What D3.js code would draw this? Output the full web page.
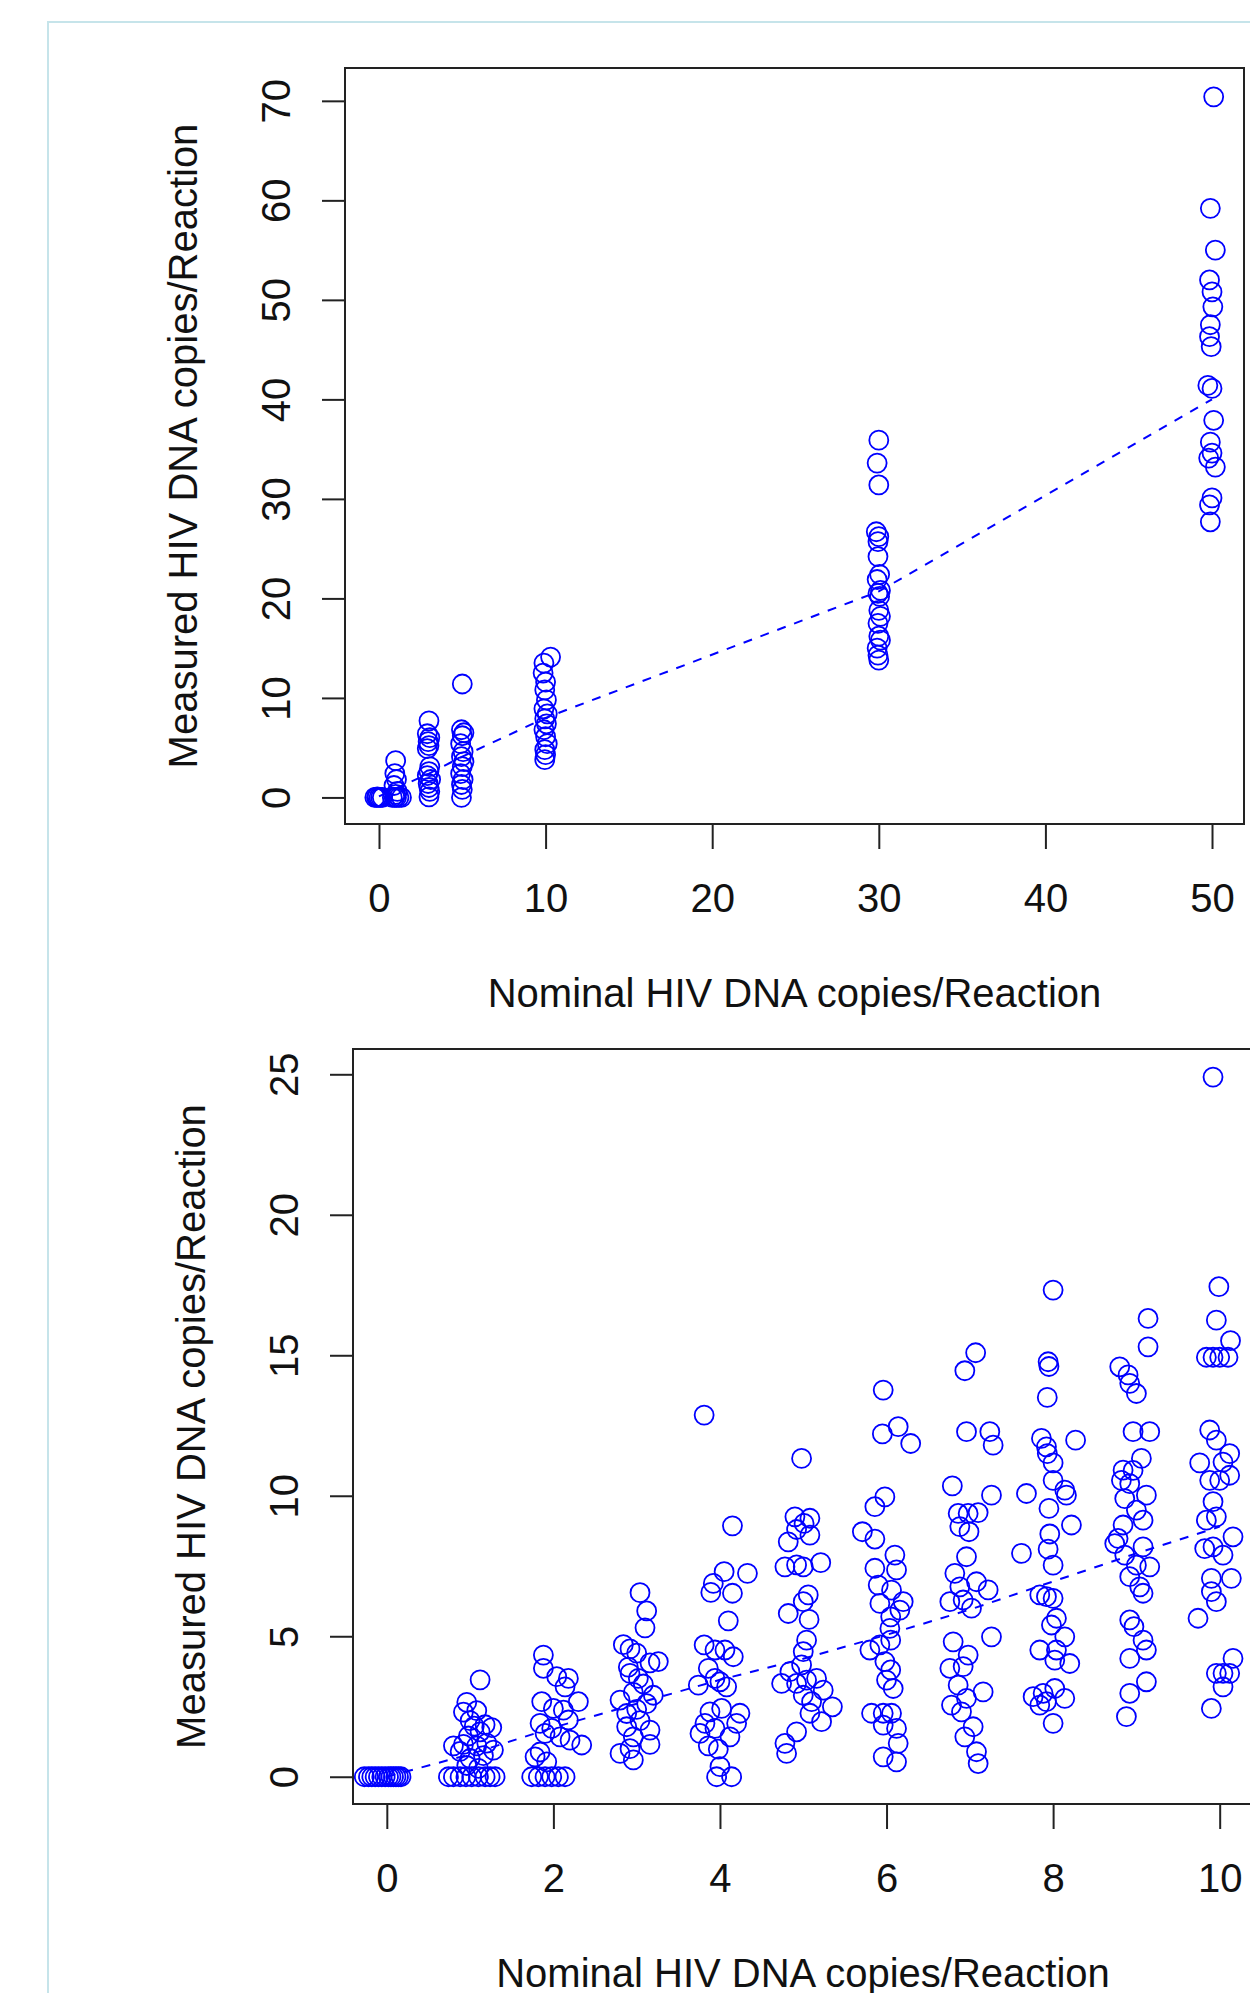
<!DOCTYPE html>
<html>
<head>
<meta charset="utf-8">
<script src="https://cdn.jsdelivr.net/npm/d3@7"></script>
<style>
  body { margin: 0; background: #fff; }
  svg text { font-family: "Liberation Sans", Arial, sans-serif; fill: #111; }
</style>
</head>
<body>
<svg id="chart" width="1250" height="1993"></svg>
<script>
// ---- data ----
// top panel: [jittered nominal, measured]
const topPoints = [
  [-0.25,0],[-0.15,0],[-0.1,0.05],[0,0],[0.1,0],[0.2,0],
  [1.0,3.7],[0.95,2.4],[1.05,1.8],[0.9,1.2],[1.1,0.6],[1.0,0.3],[0.8,0],[0.95,0],[1.05,0],[1.2,0],[1.35,0],
  [3.0,7.7],[2.9,6.4],[3.05,6.0],[2.95,5.6],[3.0,5.2],[2.9,4.9],[3.05,3.1],[3.0,2.6],[2.9,2.2],[3.1,1.8],[2.95,1.4],[3.0,1.0],[3.05,0.6],[3.0,0.05],
  [5.0,11.4],[4.95,6.8],[5.1,6.5],[5.0,6.2],[4.9,5.4],[5.05,4.6],[4.95,4.1],[5.1,3.6],[5.0,3.1],[4.9,2.4],[5.05,1.8],[4.95,1.3],[5.0,0.8],[4.95,0.0],
  [10.3,14.1],[9.9,13.5],[9.85,12.5],[10.0,11.6],[9.95,10.8],[10.05,9.8],[9.9,8.9],[10.1,8.4],[9.95,7.9],[10.05,7.4],[9.9,6.8],[10.0,6.1],[10.1,5.4],[9.95,4.8],[10.0,4.3],[9.95,3.8],
  [30.0,35.9],[29.9,33.6],[30.0,31.4],[29.85,26.7],[30.0,26.2],[29.95,25.7],[29.95,24.2],[30.05,22.4],[29.9,21.9],[30.1,20.8],[29.95,20.5],[30.05,20.2],[30.0,18.8],[30.1,18.2],[29.95,17.5],[30.0,16.2],[30.1,15.8],[29.9,15.0],[29.95,14.3],[30.0,13.8],
  [50.1,70.4],[49.9,59.2],[50.2,55.0],[49.85,52.0],[50.0,50.8],[50.05,49.3],[49.9,47.5],[49.85,46.3],[49.95,45.3],[49.75,41.4],[50.0,41.1],[50.1,37.9],[49.9,35.7],[50.0,34.6],[49.8,34.1],[50.2,33.2],[50.0,30.1],[49.85,29.4],[49.9,27.7]
];
const topFitX = [0, 1, 3, 5, 10, 30, 50];
const topFitY = [0.1, 0.9, 2.4, 4.1, 8.0, 20.7, 40.0];

// bottom panel, one array per nominal level
const bot0 = [[-0.27,0],[-0.22,0],[-0.18,0],[-0.14,0],[-0.1,0],[-0.06,0],[-0.02,0],[0.02,0],[0.05,0],[0.08,0],[0.11,0],[0.14,0],[0.17,0]];
const bot1 = [[1.12,3.45],[0.96,2.65],[0.92,2.3],[1.08,2.35],[1.0,2.0],[1.05,1.8],[1.18,1.85],[1.26,1.75],[1.12,1.6],[0.98,1.45],[0.8,1.1],[0.92,1.15],[1.08,1.1],[1.2,1.2],[1.28,0.95],[0.88,0.9],[1.0,0.65],[1.16,0.75],[0.96,0.4],[1.1,0.3],
  [0.74,0],[0.8,0],[0.88,0],[0.95,0],[1.02,0],[1.1,0],[1.18,0],[1.24,0],[1.3,0]];
const bot2 = [[1.88,4.33],[1.88,3.86],[2.04,3.56],[2.18,3.5],[2.14,3.2],[2.3,2.67],[1.86,2.67],[2.0,2.43],[2.12,2.37],[2.18,2.02],[1.84,1.9],[1.98,1.72],[1.9,1.54],[2.08,1.42],[2.34,1.13],[2.2,1.3],[1.78,0.71],[1.92,0.53],[1.84,0.88],
  [1.74,0],[1.82,0],[1.9,0],[1.98,0],[2.06,0],[2.14,0]];
const bot3 = [[3.04,6.55],[3.12,5.9],[3.1,5.3],[2.84,4.7],[2.92,4.55],[3.0,4.4],[3.16,4.05],[3.26,4.1],[2.92,3.68],[3.08,3.3],[2.96,3.0],[2.8,2.73],[3.12,2.6],[2.88,2.25],[3.04,2.0],[2.88,1.78],[3.16,1.66],[2.96,1.42],[3.16,1.15],[2.92,1.0],[2.8,0.83],[2.96,0.6],[3.02,3.5],[2.9,3.9],[3.2,2.9],[3.0,2.4]];
const bot4 = [[3.81,12.87],[4.15,8.93],[4.05,7.3],[4.33,7.24],[3.92,6.88],[3.89,6.56],[4.15,6.53],[4.1,5.55],[3.81,4.69],[3.94,4.51],[4.06,4.51],[4.16,4.27],[3.74,3.26],[3.86,3.86],[3.94,3.5],[4.0,3.38],[4.08,3.2],[3.88,2.31],[4.02,2.43],[4.24,2.26],[3.82,1.9],[3.94,1.72],[4.12,1.42],[3.86,1.1],[3.98,0.98],[4.0,0.36],[3.96,0],[4.14,0],[4.2,1.9],[3.76,1.54]];
const bot5 = [[4.98,11.33],[4.9,9.25],[5.08,9.2],[5.01,9.02],[4.82,8.36],[4.92,8.8],[5.08,8.6],[4.78,7.47],[4.92,7.54],[5.0,7.47],[5.21,7.62],[5.06,6.47],[5.0,6.23],[4.82,5.81],[5.07,5.6],[5.04,4.86],[5.0,4.45],[4.74,3.32],[4.84,3.74],[4.98,3.98],[4.92,3.32],[5.04,3.44],[5.16,3.5],[5.24,3.08],[5.0,2.9],[5.1,2.67],[5.35,2.49],[5.08,2.26],[5.22,1.96],[4.92,1.6],[4.78,1.19],[4.8,0.83]];
const bot6 = [[5.96,13.76],[5.95,12.2],[6.14,12.46],[6.29,11.86],[5.98,9.96],[5.86,9.61],[5.71,8.72],[5.86,8.46],[6.1,7.89],[6.12,7.36],[5.86,7.42],[5.9,6.82],[6.06,6.64],[5.92,6.17],[6.2,6.23],[6.16,5.93],[6.05,5.69],[6.04,5.28],[6.05,4.86],[5.8,4.51],[5.92,4.69],[5.98,4.1],[6.05,3.8],[6.0,3.44],[6.08,3.14],[5.82,2.26],[5.96,2.26],[6.06,2.26],[5.96,1.84],[6.12,1.72],[6.14,1.19],[5.96,0.71],[6.12,0.53]];
const bot7 = [[7.07,15.09],[6.94,14.45],[6.96,12.28],[7.24,12.28],[7.28,11.8],[6.79,10.35],[7.26,10.02],[6.86,9.37],[6.98,9.37],[7.1,9.4],[6.88,8.9],[6.99,8.72],[6.96,7.83],[6.82,7.24],[7.08,6.94],[7.22,6.65],[6.88,6.76],[6.76,6.23],[6.92,6.29],[7.02,6.0],[6.8,4.8],[7.26,4.98],[6.98,4.33],[6.76,3.86],[6.92,3.92],[6.86,3.26],[7.16,3.02],[6.96,2.79],[6.78,2.55],[6.9,2.31],[7.04,1.78],[6.94,1.42],[7.08,0.89],[7.1,0.47]];
const bot8 = [[8.0,17.32],[7.94,14.77],[7.95,14.6],[7.93,13.5],[7.86,12.04],[7.92,11.74],[7.93,11.5],[8.27,11.98],[8.0,11.17],[8.0,10.55],[8.14,10.2],[8.16,10.02],[7.68,10.08],[7.95,9.55],[8.22,8.96],[7.96,8.64],[7.62,7.95],[7.94,8.1],[8.0,7.53],[7.84,6.47],[7.92,6.41],[8.0,6.35],[8.04,5.64],[7.98,5.4],[8.14,4.98],[7.84,4.51],[8.04,4.51],[8.2,4.03],[8.02,4.15],[7.76,2.85],[7.88,2.97],[8.02,3.14],[8.14,2.79],[7.84,2.55],[8.0,1.9],[7.92,2.67]];
const bot9 = [[9.14,16.31],[9.14,15.3],[8.8,14.59],[8.9,14.3],[8.92,14.0],[9.0,13.64],[8.96,12.28],[9.16,12.28],[9.06,11.33],[8.84,10.91],[8.96,10.9],[8.82,10.55],[8.92,10.43],[9.12,10.02],[8.86,9.9],[9.0,9.49],[9.08,9.13],[8.84,8.96],[8.78,8.48],[8.74,8.3],[9.08,8.18],[8.86,7.89],[9.0,7.53],[9.16,7.47],[8.92,7.12],[9.04,6.76],[9.08,6.53],[8.92,5.58],[8.97,5.34],[9.08,4.86],[9.12,4.51],[8.92,4.21],[9.12,3.38],[8.92,2.97],[8.88,2.14]];
const bot10 = [[9.92,24.9],[9.99,17.44],[9.96,16.25],[10.13,15.52],[9.84,14.93],[9.92,14.93],[10.0,14.93],[10.1,14.93],[9.88,12.34],[9.96,11.98],[9.76,11.17],[10.12,11.5],[10.04,11.2],[10.12,10.73],[9.88,10.55],[10.0,10.55],[9.92,9.79],[9.84,9.13],[9.96,9.25],[10.16,8.54],[9.82,8.12],[9.92,8.18],[10.04,7.89],[10.14,7.06],[9.9,7.06],[9.9,6.59],[9.96,6.23],[9.74,5.64],[10.16,4.21],[9.96,3.68],[10.04,3.68],[10.12,3.68],[10.04,3.2],[9.9,2.43]];
const botFitX = [0, 1, 2, 3, 4, 5, 6, 7, 8, 9, 10];
const botFitY = [0.0, 0.8, 1.75, 2.6, 3.45, 4.2, 5.05, 5.95, 6.95, 7.95, 8.9];

const topXTicks = [0, 10, 20, 30, 40, 50];
const topYTicks = [0, 10, 20, 30, 40, 50, 60, 70];
const botXTicks = [0, 2, 4, 6, 8, 10];
const botYTicks = [0, 5, 10, 15, 20, 25];
const xTitle = "Nominal HIV DNA copies/Reaction";
const yTitle = "Measured HIV DNA copies/Reaction";

// ---- drawing ----
const svg = d3.select("#chart");
const blue = "#0000ff";

// light page frame
svg.append("path")
    .attr("d", "M48,1993 L48,22 L1250,22")
    .attr("fill", "none")
    .attr("stroke", "#c6e4ea")
    .attr("stroke-width", 2);

function panel(box, xlim, ylim, points, fitX, fitY, xTicks, yTicks) {
    const x = d3.scaleLinear().domain(xlim).range([box.left, box.left + box.width]);
    const y = d3.scaleLinear().domain(ylim).range([box.top + box.height, box.top]);
    const g = svg.append("g");

    // points
    g.selectAll("circle.pt")
        .data(points)
        .enter().append("circle")
            .attr("class", "pt")
            .attr("cx", d => x(d[0]))
            .attr("cy", d => y(d[1]))
            .attr("r", 9.5)
            .attr("fill", "none")
            .attr("stroke", blue)
            .attr("stroke-width", 1.8);

    // dashed fit line
    const line = d3.line().x(d => x(d[0])).y(d => y(d[1]));
    g.append("path")
        .datum(d3.zip(fitX, fitY))
        .attr("d", line)
        .attr("fill", "none")
        .attr("stroke", blue)
        .attr("stroke-width", 2)
        .attr("stroke-dasharray", "9,9");

    // box
    g.append("rect")
        .attr("x", box.left).attr("y", box.top)
        .attr("width", box.width).attr("height", box.height)
        .attr("fill", "none").attr("stroke", "#222").attr("stroke-width", 2);

    // x axis
    const gx = g.append("g")
        .attr("transform", "translate(0," + (box.top + box.height) + ")")
        .call(d3.axisBottom(x).tickValues(xTicks).tickSize(25).tickFormat(d3.format("d")));
    gx.select(".domain").remove();
    gx.selectAll("line").attr("stroke", "#222").attr("stroke-width", 2);
    gx.selectAll("text")
        .attr("y", 88).attr("dy", 0)
        .style("font-size", "40px");

    // y axis, labels rotated as in base R
    const gy = g.append("g")
        .attr("transform", "translate(" + box.left + ",0)")
        .call(d3.axisLeft(y).tickValues(yTicks).tickSize(23).tickFormat(d3.format("d")));
    gy.select(".domain").remove();
    gy.selectAll("line").attr("stroke", "#222").attr("stroke-width", 2);
    gy.selectAll("text")
        .attr("x", 0).attr("dy", 0)
        .attr("text-anchor", "middle")
        .attr("transform", "translate(-55,0) rotate(-90)")
        .style("font-size", "40px");

    // titles
    g.append("text")
        .attr("x", box.left + box.width / 2)
        .attr("y", box.top + box.height + 183)
        .attr("text-anchor", "middle")
        .style("font-size", "40px")
        .text(xTitle);
    g.append("text")
        .attr("transform", "translate(" + (box.left - 148) + "," + (box.top + box.height / 2) + ") rotate(-90)")
        .attr("text-anchor", "middle")
        .style("font-size", "40px")
        .text(yTitle);
}

panel({left: 345, top: 68, width: 899, height: 756},
      [-2.04, 51.92], [-2.67, 73.3],
      topPoints, topFitX, topFitY, topXTicks, topYTicks);

panel({left: 353, top: 1049, width: 900, height: 755},
      [-0.406, 10.4], [-0.97, 25.9],
      [].concat(bot0, bot1, bot2, bot3, bot4, bot5, bot6, bot7, bot8, bot9, bot10),
      botFitX, botFitY, botXTicks, botYTicks);
</script>
</body>
</html>
